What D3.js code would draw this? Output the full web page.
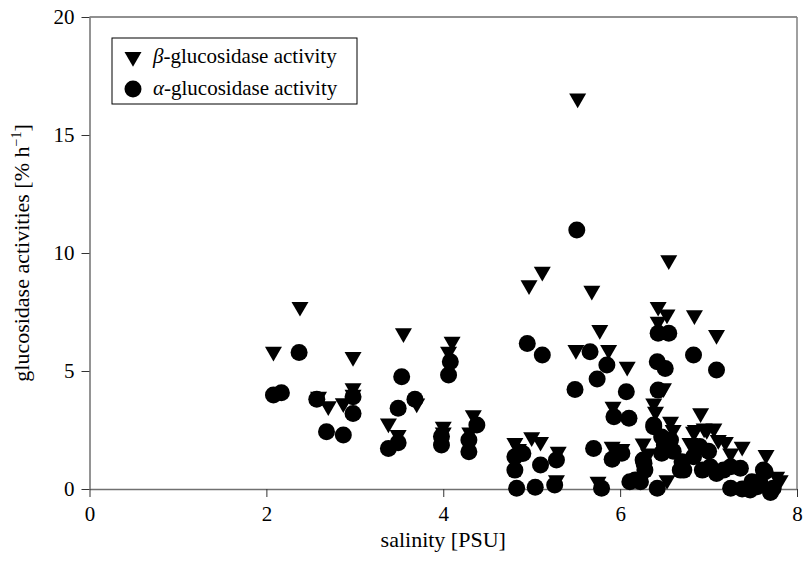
<!DOCTYPE html>
<html>
<head>
<meta charset="utf-8">
<script src="https://cdn.jsdelivr.net/npm/d3@7"></script>
<style>
  body { margin: 0; background: #fff; }
</style>
</head>
<body>
<svg width="806" height="562"></svg>
<script>
// beta-glucosidase (triangles)
const betaSal = [2.08, 2.38, 2.59, 2.70, 2.87, 2.98, 2.98, 2.98, 3.38, 3.49, 3.55, 3.70, 4.00, 4.00, 4.06, 4.10,
  4.34, 4.30, 4.81, 4.85, 5.00, 5.10, 4.97, 5.12, 5.30, 5.28, 5.52, 5.50, 5.68, 5.77, 5.87, 6.08, 5.92, 5.91, 5.75,
  6.55, 6.43, 6.53, 6.43, 6.49, 6.38, 6.40, 6.57, 6.60, 6.26, 6.32, 6.53, 6.84, 7.09, 6.91, 6.85, 6.98, 6.83, 6.95,
  7.06, 7.11, 7.19, 6.79, 7.25, 7.38, 7.65, 7.77, 7.81, 6.02];
const betaAct = [5.82, 7.72, 3.91, 3.51, 3.64, 5.60, 4.27, 4.00, 2.78, 2.29, 6.60, 3.63, 2.64, 2.40, 5.82, 6.24,
  3.13, 2.40, 1.95, 1.70, 2.20, 2.00, 8.64, 9.21, 1.58, 0.38, 16.55, 5.89, 8.40, 6.74, 5.89, 5.18, 3.49, 1.79, 0.31,
  9.70, 7.72, 7.40, 7.09, 4.27, 3.63, 3.28, 2.85, 2.50, 1.93, 1.51, 0.38, 7.37, 6.53, 3.21, 2.50, 2.50, 2.43, 2.57,
  2.57, 2.08, 2.00, 1.95, 1.51, 1.79, 1.44, 0.52, 0.38, 1.70];

// alpha-glucosidase (circles)
const alphaSal = [2.08, 2.17, 2.37, 2.57, 2.68, 2.87, 2.98, 2.98, 3.38, 3.49, 3.49, 3.53, 3.68, 3.98, 3.98, 4.06,
  4.08, 4.38, 4.29, 4.29, 4.95, 5.12, 4.81, 4.81, 4.83, 5.04, 5.10, 5.28, 5.26, 4.90, 5.51, 5.66, 5.85, 5.74, 5.49,
  6.07, 5.93, 6.10, 5.70, 5.91, 6.02, 5.79, 6.11, 6.23, 6.27, 6.42, 6.43, 6.55, 6.42, 6.51, 6.43, 6.38, 6.38, 6.47,
  6.57, 6.50, 6.47, 6.26, 6.28, 6.17, 6.83, 7.09, 6.72, 6.93, 6.83, 6.68, 6.70, 7.02, 7.17, 7.09, 7.25, 7.36, 7.25,
  7.38, 7.47, 7.62, 7.64, 7.58, 7.49, 7.73, 7.70, 7.55, 6.90, 7.00, 6.60];
const alphaAct = [3.98, 4.08, 5.78, 3.80, 2.43, 2.29, 3.91, 3.20, 1.72, 1.96, 3.42, 4.76, 3.80, 2.22, 1.86, 4.83,
  5.39, 2.71, 2.08, 1.58, 6.17, 5.68, 1.37, 0.80, 0.03, 0.07, 1.02, 1.23, 0.17, 1.50, 10.97, 5.82, 5.25, 4.66, 4.22,
  4.12, 3.06, 3.00, 1.72, 1.26, 1.51, 0.03, 0.31, 0.31, 1.09, 0.03, 6.60, 6.60, 5.39, 5.11, 4.19, 2.71, 2.64, 2.20,
  2.08, 1.86, 1.51, 1.23, 0.80, 0.38, 5.68, 5.04, 0.80, 0.80, 1.37, 0.80, 1.15, 0.94, 0.80, 0.66, 0.94, 0.88, 0.03,
  0.00, -0.04, 0.80, 0.73, 0.31, 0.31, 0.03, -0.15, 0.10, 1.80, 1.60, 1.60];

const xTicks = [0, 2, 4, 6, 8];
const yTicks = [0, 5, 10, 15, 20];

const FONT = "'Liberation Serif', 'Times New Roman', serif";

const svg = d3.select('svg');
const margin = {left: 89.5, top: 17, right: 9, bottom: 73};
const width = +svg.attr('width');
const height = +svg.attr('height');
const innerWidth = width - margin.left - margin.right;
const innerHeight = height - margin.top - margin.bottom;

const xScale = d3.scaleLinear().domain([0, 8]).range([0, innerWidth]);
const yScale = d3.scaleLinear().domain([0, 20]).range([innerHeight, 0]);

const g = svg.append('g').attr('transform', `translate(${margin.left},${margin.top})`);

// frame top + right
g.append('line').attr('x1', 0).attr('x2', innerWidth).attr('y1', 0).attr('y2', 0)
  .attr('stroke', '#222').attr('stroke-width', 1.2);
g.append('line').attr('x1', innerWidth).attr('x2', innerWidth).attr('y1', 0).attr('y2', innerHeight)
  .attr('stroke', '#808080').attr('stroke-width', 1.5);

const yAxis = g.append('g')
  .call(d3.axisLeft(yScale).tickValues(yTicks).tickSize(8).tickPadding(7).tickSizeOuter(0));
const xAxis = g.append('g').attr('transform', `translate(0,${innerHeight})`)
  .call(d3.axisBottom(xScale).tickValues(xTicks).tickSize(8).tickPadding(9).tickSizeOuter(0));
[xAxis, yAxis].forEach(ax => {
  ax.attr('font-family', FONT).attr('font-size', 21);
  ax.select('.domain').attr('stroke', '#707070').attr('stroke-width', 1.5);
  ax.selectAll('.tick line').attr('stroke', '#333');
  ax.selectAll('text').attr('fill', '#000');
});

// points
const circles = alphaSal.map((s, i) => ({x: s, y: alphaAct[i]}));
const tris = betaSal.map((s, i) => ({x: s, y: betaAct[i]}));
const tri = d3.symbol().type(d3.symbolTriangle).size(125);

g.selectAll('circle.a').data(circles).enter().append('circle')
  .attr('cx', d => xScale(d.x)).attr('cy', d => yScale(d.y)).attr('r', 8.5).attr('fill', '#000');
g.selectAll('path.b').data(tris).enter().append('path')
  .attr('d', tri)
  .attr('transform', d => `translate(${xScale(d.x)},${yScale(d.y)}) rotate(180)`)
  .attr('fill', '#000');

// legend
const lg = svg.append('g').attr('transform', 'translate(112,38)').attr('font-family', FONT).attr('font-size', 21);
lg.append('rect').attr('width', 245).attr('height', 66).attr('fill', '#fff').attr('stroke', '#000');
lg.append('path').attr('d', tri).attr('transform', 'translate(21,19) rotate(180)').attr('fill', '#000');
lg.append('circle').attr('cx', 21).attr('cy', 51).attr('r', 8.5).attr('fill', '#000');
const l1 = lg.append('text').attr('x', 41).attr('y', 25);
l1.append('tspan').attr('font-style', 'italic').text('β');
l1.append('tspan').text('-glucosidase activity');
const l2 = lg.append('text').attr('x', 41).attr('y', 57);
l2.append('tspan').attr('font-style', 'italic').text('α');
l2.append('tspan').text('-glucosidase activity');

// axis titles
svg.append('text').attr('x', margin.left + innerWidth / 2).attr('y', 547)
  .attr('font-family', FONT).attr('font-size', 22)
  .attr('text-anchor', 'middle').text('salinity [PSU]');
const yt = svg.append('text').attr('transform', `translate(29,${margin.top + innerHeight / 2}) rotate(-90)`)
  .attr('font-family', FONT).attr('font-size', 22)
  .attr('text-anchor', 'middle');
yt.append('tspan').text('glucosidase activities [% h');
yt.append('tspan').attr('dy', -8).attr('font-size', 14).text('−1');
yt.append('tspan').attr('dy', 8).text(']');
</script>
</body>
</html>
